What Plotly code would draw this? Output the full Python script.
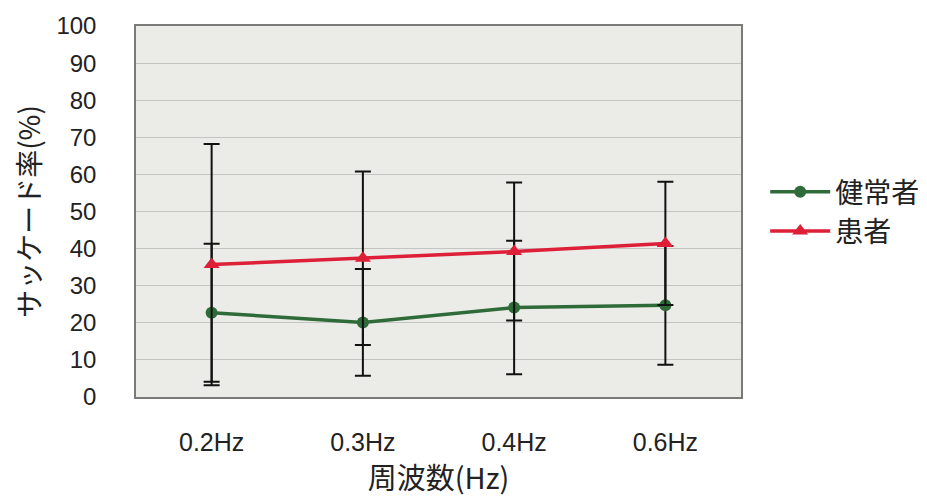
import plotly.graph_objects as go

categories = ["0.2Hz", "0.3Hz", "0.4Hz", "0.6Hz"]
healthy = [22.7, 20.1, 24.1, 24.7]
healthy_err = [18.6, 14.4, 18.0, 16.0]
patient = [35.7, 37.4, 39.2, 41.4]
patient_err = [32.5, 23.4, 18.6, 16.6]
yticks = [0, 10, 20, 30, 40, 50, 60, 70, 80, 90, 100]

GREEN = "#2f6b38"
RED = "#de1f38"
NUM_FONT = "Liberation Sans, Arial, sans-serif"
JP_FONT = "Noto Sans CJK JP, sans-serif"

fig = go.Figure()
fig.add_trace(go.Scatter(
    x=categories, y=healthy, name="健常者", mode="lines+markers",
    line=dict(color=GREEN, width=3.5),
    marker=dict(symbol="circle", size=12, color=GREEN),
    error_y=dict(type="data", array=healthy_err, visible=True,
                 color="#111111", thickness=2, width=8),
))
fig.add_trace(go.Scatter(
    x=categories, y=patient, name="患者", mode="lines+markers",
    line=dict(color=RED, width=3.5),
    marker=dict(symbol="triangle-up", size=14, color=RED),
    error_y=dict(type="data", array=patient_err, visible=True,
                 color="#111111", thickness=2, width=8),
))

# page body has an 8px default margin, so the figure is slightly smaller
fig.update_layout(
    width=919, height=489,
    margin=dict(l=128, r=186, t=18, b=100, autoexpand=False),
    paper_bgcolor="white",
    plot_bgcolor="#ebebe8",
    showlegend=True,
    legend=dict(
        x=1.04, y=0.5, xanchor="left", yanchor="middle",
        font=dict(family=JP_FONT, size=28, color="#222222"),
        itemwidth=60, tracegroupgap=2,
        bgcolor="rgba(0,0,0,0)",
    ),
    font=dict(family=NUM_FONT, color="#222222"),
)
fig.update_xaxes(
    type="category", range=[-0.5, 3.5], automargin=False,
    showgrid=False, showline=True, linecolor="#7a7a7a", linewidth=1.5, mirror=True,
    ticks="", tickfont=dict(family=NUM_FONT, size=25, color="#222222"),
    ticklabelstandoff=22,
    title=dict(text="周波数(Hz)", font=dict(family=JP_FONT, size=29, color="#222222"), standoff=14),
)
fig.update_yaxes(
    range=[0, 100], tickvals=yticks, automargin=False,
    showgrid=True, gridcolor="#c4c4c2", gridwidth=1,
    showline=True, linecolor="#7a7a7a", linewidth=1.5, mirror=True,
    zeroline=False,
    ticks="", tickfont=dict(family=NUM_FONT, size=24, color="#222222"),
    ticklabelstandoff=33,
    title=dict(text="サッケード率(%)", font=dict(family=JP_FONT, size=28, color="#222222"), standoff=26),
)

fig.write_html("out.html")
